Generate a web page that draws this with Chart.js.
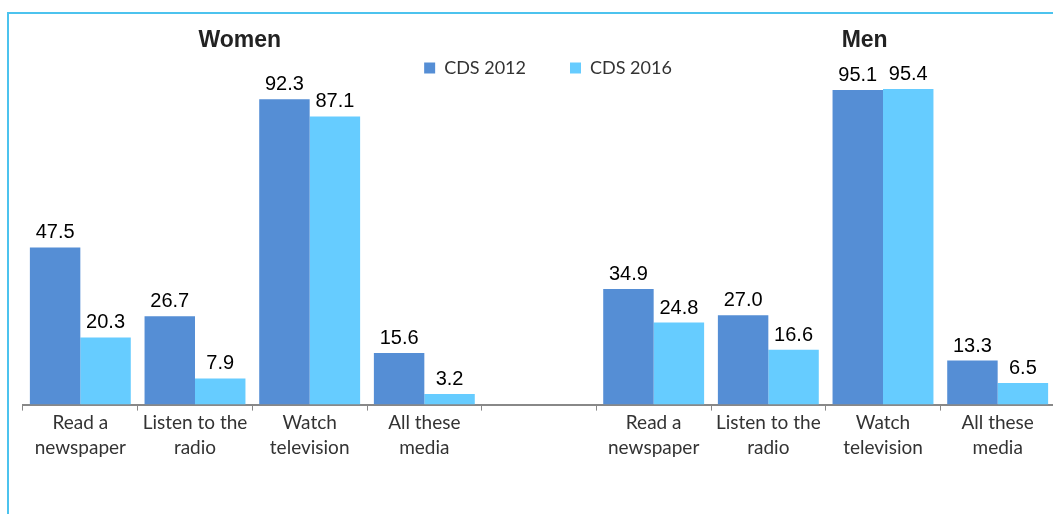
<!DOCTYPE html>
<html>
<head>
<meta charset="utf-8">
<script src="https://cdn.jsdelivr.net/npm/chart.js@4.4.1/dist/chart.umd.min.js"></script>
<style>
    html, body { margin: 0; padding: 0; background: #fff; overflow: hidden; }
    #frame { position: absolute; left: 7px; top: 12px; width: 1200px; height: 600px; border: 2px solid #4cc3ee; box-sizing: border-box; }
    #wrap { position: absolute; left: 0; top: 0; width: 1062px; height: 514px; }
</style>
</head>
<body>
<div id="frame"></div>
<div id="wrap"><canvas id="chart"></canvas></div>
<script>
const categories = [
    ["Read a", "newspaper"], ["Listen to the", "radio"], ["Watch", "television"], ["All these", "media"],
    "",
    ["Read a", "newspaper"], ["Listen to the", "radio"], ["Watch", "television"], ["All these", "media"]
];
const cds2012 = [47.5, 26.7, 92.3, 15.6, null, 34.9, 27.0, 95.1, 13.3];
const cds2016 = [20.3, 7.9, 87.1, 3.2, null, 24.8, 16.6, 95.4, 6.5];
const groupTitles = [{text: "Women", at: 1.39}, {text: "Men", at: 6.84}];

const dark = "#558ed5";
const light = "#66ccff";
const legendGap = 44;

// value labels above bars + group titles
const labelsPlugin = {
    id: "barLabels",
    afterDatasetsDraw(chart) {
        const ctx = chart.ctx;
        ctx.save();
        ctx.fillStyle = "#000";
        ctx.font = "20px 'Liberation Sans', Arial, sans-serif";
        ctx.textAlign = "center";
        ctx.textBaseline = "alphabetic";
        chart.data.datasets.forEach((ds, i) => {
            chart.getDatasetMeta(i).data.forEach((bar, j) => {
                if (ds.data[j] == null) return;
                ctx.fillText(ds.data[j].toFixed(1), bar.x, bar.y - 9);
            });
        });
        ctx.font = "bold 23px 'Liberation Sans', Arial, sans-serif";
        ctx.fillStyle = "#222";
        const xs = chart.scales.x;
        for (const t of groupTitles) {
            ctx.fillText(t.text, xs.getPixelForValue(t.at), 47);
        }
        ctx.restore();
    }
};

// wide gap between legend items, but keep the legend box short
const legendFit = {
    id: "legendFit",
    beforeInit(chart) {
        const fit = chart.legend.fit;
        chart.legend.fit = function () {
            fit.bind(chart.legend)();
            this.height = legendGap + 19 + 6;
        };
    },
    afterLayout(chart) {
        chart.legend.left += 9;
        chart.legend.right += 9;
        chart.legend.top += 3;
        chart.legend.bottom += 3;
    }
};

new Chart(document.getElementById("chart"), {
    type: "bar",
    data: {
        labels: categories,
        datasets: [
            {label: "CDS 2012", data: cds2012, backgroundColor: dark, barPercentage: 1, categoryPercentage: 0.88},
            {label: "CDS 2016", data: cds2016, backgroundColor: light, barPercentage: 1, categoryPercentage: 0.88}
        ]
    },
    options: {
        responsive: true,
        maintainAspectRatio: false,
        animation: false,
        layout: {padding: {left: 23, right: 7, top: 12, bottom: 54}},
        plugins: {
            legend: {
                display: true,
                position: "top",
                labels: {
                    boxWidth: 11,
                    boxHeight: 11,
                    padding: legendGap,
                    color: "#333",
                    font: {family: "Lato, 'Open Sans', sans-serif", size: 18}
                }
            },
            tooltip: {enabled: false}
        },
        scales: {
            x: {
                offset: true,
                grid: {display: true, drawOnChartArea: false, offset: true, tickLength: 6, color: "#888", lineWidth: 1},
                border: {display: true, color: "#888", width: 2},
                ticks: {color: "#333", padding: 0, maxRotation: 0, autoSkip: false,
                    font: {family: "Lato, 'Open Sans', sans-serif", size: 19, lineHeight: 1.3}}
            },
            y: {
                display: false,
                min: 0,
                max: 97.8
            }
        }
    },
    plugins: [labelsPlugin, legendFit]
});
</script>
</body>
</html>
